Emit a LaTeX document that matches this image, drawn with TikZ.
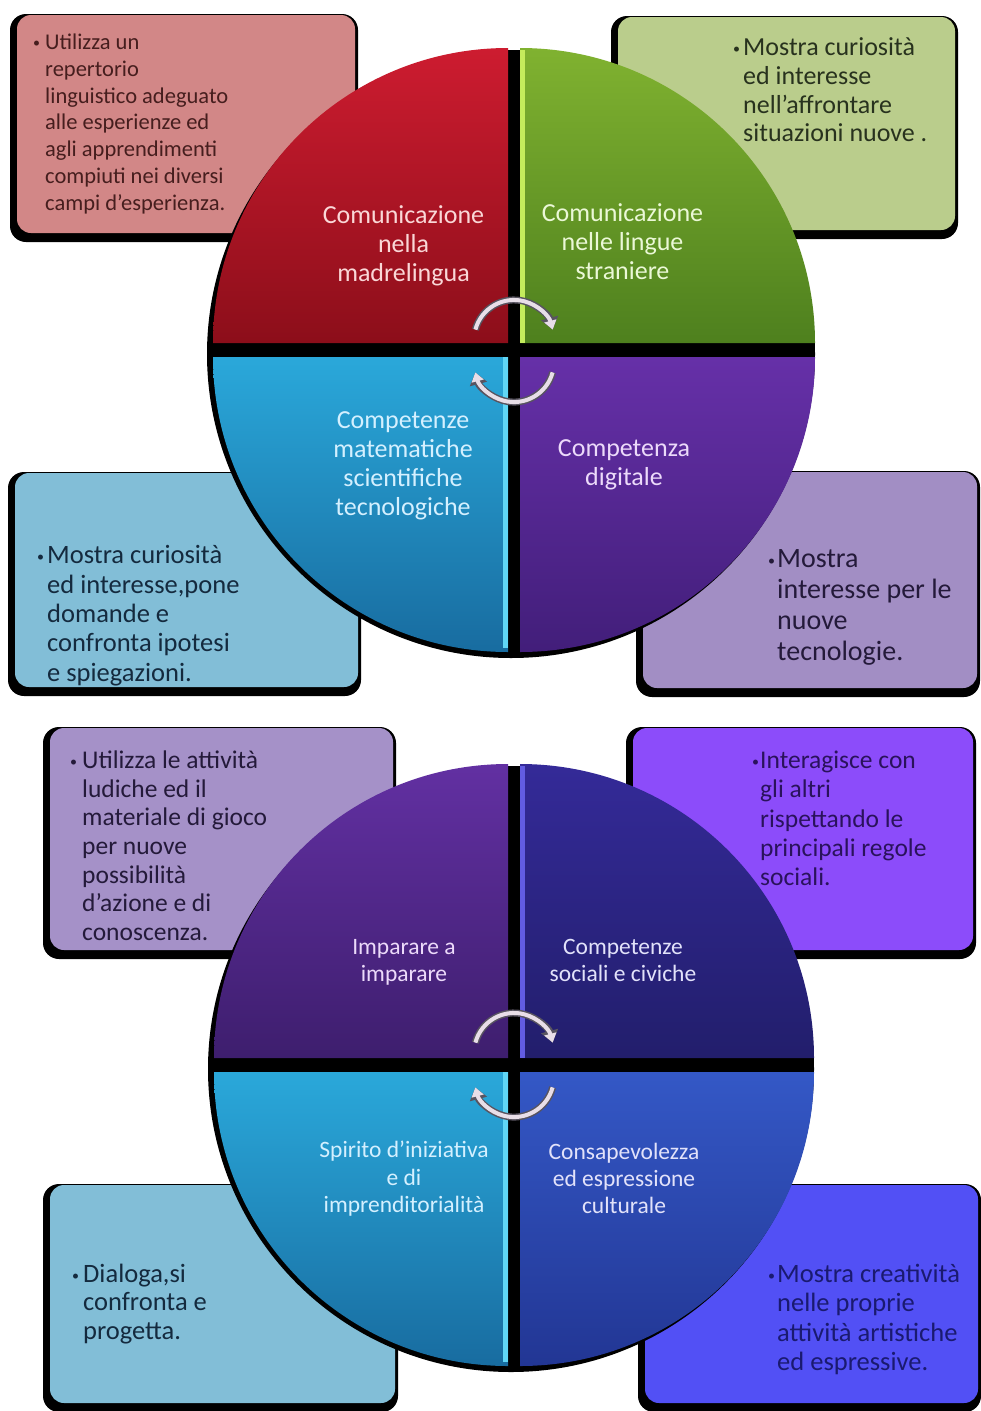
\documentclass[tikz,border=0pt]{standalone}
\usepackage{fontspec}
\setmainfont{Carlito}
\usetikzlibrary{arrows.meta}

% quadrant fills (top / bottom of each gradient)
\definecolor{redA}{RGB}{205,28,48}\definecolor{redB}{RGB}{140,14,26}
\definecolor{grnA}{RGB}{128,178,48}\definecolor{grnB}{RGB}{78,128,30}
\definecolor{bluA}{RGB}{42,168,218}\definecolor{bluB}{RGB}{24,108,160}
\definecolor{purA}{RGB}{102,48,168}\definecolor{purB}{RGB}{66,30,122}
\definecolor{vioA}{RGB}{98,48,162}\definecolor{vioB}{RGB}{62,30,110}
\definecolor{indA}{RGB}{52,42,152}\definecolor{indB}{RGB}{34,30,108}
\definecolor{cobA}{RGB}{52,88,198}\definecolor{cobB}{RGB}{34,54,148}
% edge highlights
\definecolor{hlGrn}{RGB}{196,236,92}
\definecolor{hlCya}{RGB}{96,214,246}
\definecolor{hlInd}{RGB}{98,92,226}
% side panels
\definecolor{pnlRed}{RGB}{210,135,135}
\definecolor{pnlGrn}{RGB}{186,205,140}
\definecolor{pnlBlu}{RGB}{130,190,215}
\definecolor{pnlPur}{RGB}{162,142,196}
\definecolor{pnlLav}{RGB}{165,145,200}
\definecolor{pnlVio}{RGB}{140,76,250}
\definecolor{pnlCob}{RGB}{82,80,245}
% texts
\definecolor{txRed}{RGB}{70,30,30}
\definecolor{txGrn}{RGB}{40,50,30}
\definecolor{txBlu}{RGB}{20,42,62}
\definecolor{txPur}{RGB}{36,26,58}
\definecolor{txVio}{RGB}{42,18,92}
\definecolor{txCob}{RGB}{26,26,112}
\definecolor{lbRed}{RGB}{250,215,215}
\definecolor{lbGrn}{RGB}{235,248,215}
\definecolor{lbBlu}{RGB}{212,240,255}
\definecolor{lbPur}{RGB}{236,218,250}
\definecolor{lbInd}{RGB}{226,226,250}
% ring arrows
\definecolor{ringLight}{RGB}{232,222,232}
\definecolor{ringDark}{RGB}{88,84,96}

% small bullet in a box of the given width, and the matching indent
\newcommand{\bmark}[1]{\makebox[#1][l]{\raisebox{2pt}{\fontsize{14}{14}\selectfont •}}}
\newcommand{\bpad}[1]{\hspace*{#1}}
% panel with its dark drop shadow: x0,y0,x1,y1,colour
\newcommand{\cardpanel}[5]{%
  \fill[black, rounded corners=16pt] (#1-7,#2-1) rectangle (#3+3,#4+9);
  \fill[#5, rounded corners=14pt] (#1,#2) rectangle (#3,#4);
}

\begin{document}
\begin{tikzpicture}[x=1pt,y=-1pt,
  boxtext/.style={anchor=north west, inner sep=0pt, align=left},
  quadlabel/.style={anchor=north, inner sep=0pt, align=center},
  ringback/.style={draw=ringDark, line width=7pt, -{Triangle[length=12pt,width=17pt]}},
  ringfront/.style={draw=ringLight, line width=4pt, -{Triangle[length=9pt,width=12pt]}}
]
\useasboundingbox (0,0) rectangle (981,1411);
\fill[white] (0,0) rectangle (981,1411);

% ---------------- upper wheel: panels ----------------
\cardpanel{17}{15}{355}{233}{pnlRed}
\cardpanel{618}{17}{955}{230}{pnlGrn}
\cardpanel{15}{473}{358}{687}{pnlBlu}
\cardpanel{643}{472}{977}{688}{pnlPur}

% ---------------- upper wheel: quadrants ----------------
\fill[black] (511,354) circle[radius=304];
\shade[top color=redA, bottom color=redB] (508,343) -- (213,343) arc[start angle=180,end angle=270,radius=295] -- cycle;
\shade[top color=grnA, bottom color=grnB] (520,343) -- (520,48) arc[start angle=270,end angle=360,radius=295] -- cycle;
\shade[top color=purA, bottom color=purB] (520,357) -- (815,357) arc[start angle=0,end angle=90,radius=295] -- cycle;
\shade[top color=bluA, bottom color=bluB] (508,357) -- (508,652) arc[start angle=90,end angle=180,radius=295] -- cycle;
\fill[hlGrn] (520,50) rectangle (525,343);
\fill[hlCya] (503,357) rectangle (508,648);

% ring arrows
\draw[ringback] (475.4,329.6) arc[start angle=195,end angle=345,radius=40];
\draw[ringfront] (475.4,329.6) arc[start angle=195,end angle=345,radius=40];
\draw[ringback] (552.6,372.4) arc[start angle=15,end angle=165,radius=40];
\draw[ringfront] (552.6,372.4) arc[start angle=15,end angle=165,radius=40];

% quadrant titles
\node[quadlabel, text=lbRed, font=\fontsize{26}{29}\selectfont] (qa) at (403.5,203.3)
  {\strut Comunicazione\\nella\\madrelingua};
\node[quadlabel, text=lbGrn, font=\fontsize{26}{29}\selectfont] (qb) at (622.5,201.3)
  {\strut Comunicazione\\nelle lingue\\straniere};
\node[quadlabel, text=lbBlu, font=\fontsize{26}{29}\selectfont] (qc) at (403,408.3)
  {\strut Competenze\\matematiche\\scientifiche\\tecnologiche};
\node[quadlabel, text=lbPur, font=\fontsize{26}{29}\selectfont] (qd) at (624,436.3)
  {\strut Competenza\\digitale};

% panel texts
\node[boxtext, text=txRed, font=\fontsize{22.5}{26.8}\selectfont] (ta) at (33,30.6)
  {\strut\bmark{12pt}Utilizza un\\\bpad{12pt}repertorio\\\bpad{12pt}linguistico adeguato\\\bpad{12pt}alle esperienze ed\\\bpad{12pt}agli apprendimenti\\\bpad{12pt}compiuti nei diversi\\\bpad{12pt}campi d’esperienza.};
\node[boxtext, text=txGrn, font=\fontsize{26}{28.7}\selectfont] (tb) at (733,35.5)
  {\strut\bmark{10pt}Mostra curiosità\\\bpad{10pt}ed interesse\\\bpad{10pt}nell’affrontare\\\bpad{10pt}situazioni nuove .};
\node[boxtext, text=txBlu, font=\fontsize{26.5}{29.3}\selectfont] (tc) at (37,543.2)
  {\strut\bmark{10pt}Mostra curiosità\\\bpad{10pt}ed interesse,pone\\\bpad{10pt}domande e\\\bpad{10pt}confronta ipotesi\\\bpad{10pt}e spiegazioni.};
\node[boxtext, text=txPur, font=\fontsize{28}{31}\selectfont] (td) at (768,545.8)
  {\strut\bmark{9pt}Mostra\\\bpad{9pt}interesse per le\\\bpad{9pt}nuove\\\bpad{9pt}tecnologie.};

% ---------------- lower wheel: panels ----------------
\cardpanel{50}{728}{393}{950}{pnlLav}
\cardpanel{633}{728}{973}{950}{pnlVio}
\cardpanel{50}{1185}{395}{1403}{pnlBlu}
\cardpanel{645}{1185}{978}{1403}{pnlCob}

% ---------------- lower wheel: quadrants ----------------
\fill[black] (511,1069) circle[radius=303];
\shade[top color=vioA, bottom color=vioB] (508,1058) -- (214,1058) arc[start angle=180,end angle=270,radius=294] -- cycle;
\shade[top color=indA, bottom color=indB] (520,1058) -- (520,764) arc[start angle=270,end angle=360,radius=294] -- cycle;
\shade[top color=cobA, bottom color=cobB] (520,1072) -- (814,1072) arc[start angle=0,end angle=90,radius=294] -- cycle;
\shade[top color=bluA, bottom color=bluB] (508,1072) -- (508,1366) arc[start angle=90,end angle=180,radius=294] -- cycle;
\fill[hlInd] (520,766) rectangle (525,1058);
\fill[hlCya] (503,1072) rectangle (508,1362);

% ring arrows
\draw[ringback] (475.4,1042.6) arc[start angle=195,end angle=345,radius=40];
\draw[ringfront] (475.4,1042.6) arc[start angle=195,end angle=345,radius=40];
\draw[ringback] (552.6,1087.4) arc[start angle=15,end angle=165,radius=40];
\draw[ringfront] (552.6,1087.4) arc[start angle=15,end angle=165,radius=40];

% quadrant titles
\node[quadlabel, text=lbPur, font=\fontsize{23.5}{26.8}\selectfont] (qe) at (404,935.7)
  {\strut Imparare a\\imparare};
\node[quadlabel, text=lbInd, font=\fontsize{23.5}{26.8}\selectfont] (qf) at (623,935.7)
  {\strut Competenze\\sociali e civiche};
\node[quadlabel, text=lbBlu, font=\fontsize{23.5}{27.5}\selectfont] (qg) at (404,1138.5)
  {\strut Spirito d’iniziativa\\e di\\imprenditorialità};
\node[quadlabel, text=lbInd, font=\fontsize{23.5}{26.8}\selectfont] (qh) at (624,1140.7)
  {\strut Consapevolezza\\ed espressione\\culturale};

% panel texts
\node[boxtext, text=txPur, font=\fontsize{25.5}{28.6}\selectfont] (te) at (70,748.4)
  {\strut\bmark{12pt}Utilizza le attività\\\bpad{12pt}ludiche ed il\\\bpad{12pt}materiale di gioco\\\bpad{12pt}per nuove\\\bpad{12pt}possibilità\\\bpad{12pt}d’azione e di\\\bpad{12pt}conoscenza.};
\node[boxtext, text=txVio, font=\fontsize{25.5}{29.2}\selectfont] (tf) at (752,748)
  {\strut\bmark{8pt}Interagisce con\\\bpad{8pt}gli altri\\\bpad{8pt}rispettando le\\\bpad{8pt}principali regole\\\bpad{8pt}sociali.};
\node[boxtext, text=txBlu, font=\fontsize{26.5}{28.5}\selectfont] (tg) at (72,1262)
  {\strut\bmark{11pt}Dialoga,si\\\bpad{11pt}confronta e\\\bpad{11pt}progetta.};
\node[boxtext, text=txCob, font=\fontsize{26.5}{29.5}\selectfont] (th) at (768,1261.4)
  {\strut\bmark{9pt}Mostra creatività\\\bpad{9pt}nelle proprie\\\bpad{9pt}attività artistiche\\\bpad{9pt}ed espressive.};

\end{tikzpicture}
\end{document}
